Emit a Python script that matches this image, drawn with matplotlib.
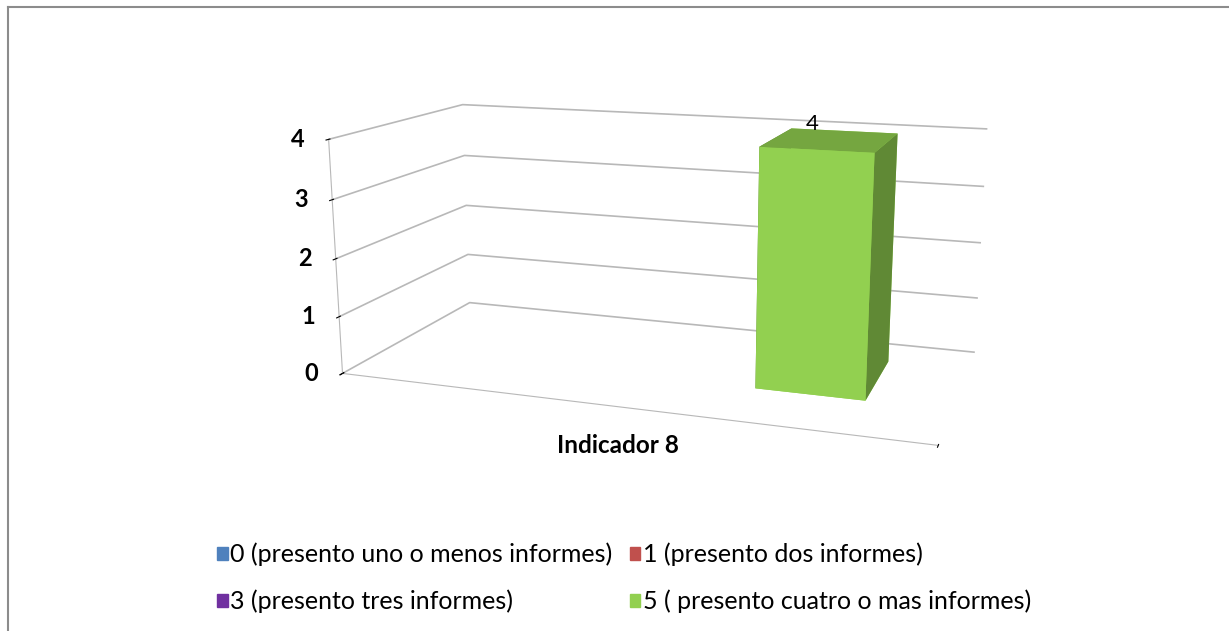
# Indicador 8: columna 3D con leyenda de cuatro series

import numpy as np
import matplotlib
matplotlib.use('Agg')
import matplotlib.pyplot as plt
from matplotlib.patches import Patch
from matplotlib.lines import Line2D
from matplotlib.transforms import offset_copy
import matplotlib.colors as mcolors

plt.rcParams['font.family'] = ['Lato', 'DejaVu Sans']

# datos
category = 'Indicador 8'
series = ['0 (presento uno o menos informes)',
          '1 (presento dos informes)',
          '3 (presento tres informes)',
          '5 ( presento cuatro o mas informes)']
values = [0, 0, 0, 4]
colors = ['#4F81BD', '#C0504D', '#7030A0', '#92D050']
zticks = [0, 1, 2, 3, 4]

grid_col = '#B8B8B8'

fig = plt.figure(figsize=(12.29, 6.31), dpi=100)

# marco del area del grafico (solo arriba e izquierda)
fig.add_artist(Line2D([8/1229, 1], [1 - 7/631, 1 - 7/631], transform=fig.transFigure, color='#8C8C8C', lw=1.5))
fig.add_artist(Line2D([8/1229, 8/1229], [0, 1 - 7/631], transform=fig.transFigure, color='#8C8C8C', lw=1.5))

s = 620
cx, cy = 658, 259
ax = fig.add_axes([cx/1229 - s/2/1229, 1 - cy/631 - s/2/631, s/1229, s/631],
                  projection='3d', proj_type='persp', focal_length=0.40)
ax.view_init(elev=13.5, azim=-71)
ax.set_box_aspect((2.5, 1.17, 1.0), zoom=1.08)

ax.set_xlim(0, 1)
ax.set_ylim(0, 1)
ax.set_zlim(0, 4)

# paredes sin relleno; el piso solo con borde
for a in (ax.xaxis, ax.yaxis, ax.zaxis):
    a.set_pane_color((1, 1, 1, 0))
    a.label.set_visible(False)
    a.offsetText.set_visible(False)
ax.xaxis.pane.set_edgecolor('none')
ax.yaxis.pane.set_edgecolor('none')
ax.zaxis.pane.set_edgecolor(grid_col)

# solo las lineas horizontales de la escala de valores
ax.xaxis._axinfo['grid']['color'] = (1, 1, 1, 0)
ax.yaxis._axinfo['grid']['color'] = (1, 1, 1, 0)
ax.zaxis._axinfo['grid']['color'] = grid_col
ax.zaxis._axinfo['grid']['linewidth'] = 1.2

# eje de valores en la arista delantera izquierda
ax.zaxis.set_ticks_position('lower')
ax.set_zticks(zticks, labels=['' for t in zticks])
ax.set_xticks([0, 1], labels=['', ''])
ax.set_yticks([])
ax.yaxis.line.set_color((1, 1, 1, 0))
ax.xaxis.line.set_color(grid_col)
ax.zaxis.line.set_color(grid_col)

# etiquetas de la escala, a la izquierda de la arista
for t in zticks:
    ax.text(0, 0, t, str(t), ha='right', va='center', fontsize=17, fontweight='bold',
            transform=offset_copy(ax.transData, fig=fig, x=-24, units='dots'))

# nombre de la categoria bajo el borde delantero del piso
ax.text(0.5, 0, 0, category, ha='center', va='top', fontsize=17.5, fontweight='bold',
        transform=offset_copy(ax.transData, fig=fig, y=-27, units='dots'))

# columnas: ancho de serie con separacion del 150%
n = len(series)
w = 1 / (n + 1.5)
y0, dy = 0.33, 0.45
for i, (v, c) in enumerate(zip(values, colors)):
    if v == 0:
        continue
    base = np.array(mcolors.to_rgb(c))
    top = base * 0.80
    side = base * 0.66
    # caras: -z, +z, -y, +y, -x, +x
    faces = [base, top, base, base, side, side]
    x0 = 0.75 * w + i * w
    ax.bar3d(x0, y0, 0, w, dy, v, color=faces, shade=False)
    ax.text(x0 + w / 2, y0, v, str(v), ha='center', va='bottom', fontsize=16,
            transform=offset_copy(ax.transData, fig=fig, x=-4, y=16, units='dots'))

handles = [Patch(color=c, label=l) for c, l in zip(colors, series)]
order = [0, 2, 1, 3]
fig.legend([handles[k] for k in order], [series[k] for k in order],
           loc='center', bbox_to_anchor=(624/1229, 1 - 578/631), ncol=2, frameon=False,
           fontsize=18, handlelength=0.42, handleheight=0.42, handletextpad=0.1,
           columnspacing=0.7, labelspacing=0.92, borderpad=0)

fig.savefig('out.png', dpi=100)
